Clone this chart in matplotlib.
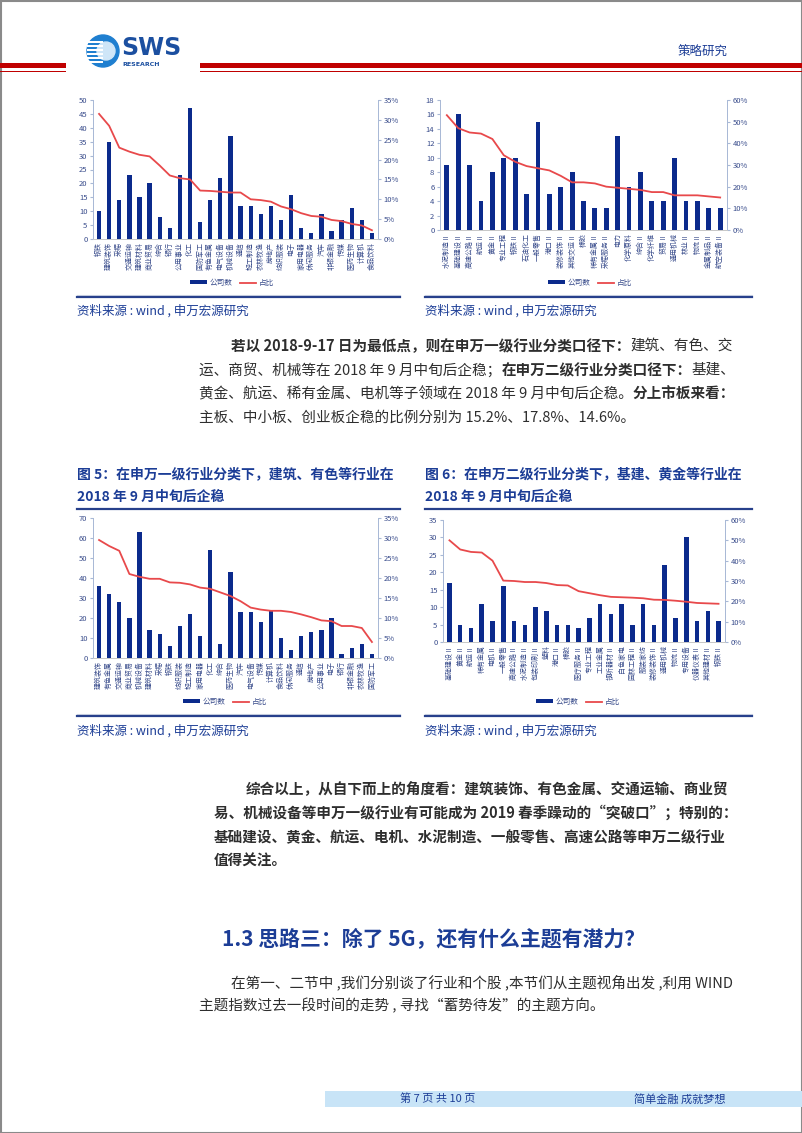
import numpy as np
import matplotlib
matplotlib.use('Agg')
import matplotlib.pyplot as plt
from matplotlib.patches import Rectangle, Circle
from matplotlib.ticker import PercentFormatter

plt.rcParams['font.family'] = ['Noto Sans CJK SC', 'DejaVu Sans']

# ---- data: 2018-9 lowest point (top) / recovered after mid Sep (bottom)
sw1_top_names = ['钢铁', '建筑装饰', '采掘', '交通运输', '建筑材料', '商业贸易', '综合', '银行',
                 '公用事业', '化工', '国防军工', '有色金属', '电气设备', '机械设备', '通信', '轻工制造',
                 '农林牧渔', '房地产', '纺织服装', '电子', '家用电器', '休闲服务', '汽车', '非银金融',
                 '传媒', '医药生物', '计算机', '食品饮料']
sw1_top_count = [10, 35, 14, 23, 15, 20, 8, 4, 23, 47, 6, 14, 22, 37, 12, 12, 9, 12, 7, 16,
                 4, 2, 9, 3, 7, 11, 7, 2]
sw1_top_ratio = [31.5, 28.5, 23.0, 22.0, 21.2, 20.8, 18.5, 16.0, 15.3, 15.0, 12.2, 12.1, 11.9,
                 11.7, 11.7, 10.0, 9.8, 9.4, 8.2, 7.5, 6.5, 5.8, 5.6, 4.8, 4.5, 3.8, 3.4, 2.2]

sw2_top_names = ['水泥制造Ⅱ', '基础建设Ⅱ', '高速公路Ⅱ', '航运Ⅱ', '黄金Ⅱ', '专业工程', '钢铁Ⅱ',
                 '石油化工', '一般零售', '港口Ⅱ', '装修装饰Ⅱ', '其他交运Ⅱ', '橡胶', '稀有金属Ⅱ',
                 '采掘服务Ⅱ', '电力', '化学原料', '综合Ⅱ', '化学纤维', '贸易Ⅱ', '通用机械',
                 '林业Ⅱ', '物流Ⅱ', '金属制品Ⅱ', '航空装备Ⅱ']
sw2_top_count = [9, 16, 9, 4, 8, 10, 10, 5, 15, 5, 6, 8, 4, 3, 3, 13, 6, 8, 4, 4, 10, 4, 4, 3, 3]
sw2_top_ratio = [53, 47, 45, 44.5, 42, 34.5, 31.5, 29.5, 28.5, 27.5, 25, 22, 22, 21.5, 20,
                 19.5, 19, 18.5, 17.5, 17.5, 16, 16, 16, 15.5, 15]

sw1_bot_names = ['建筑装饰', '有色金属', '交通运输', '商业贸易', '机械设备', '建筑材料', '采掘', '钢铁',
                 '纺织服装', '轻工制造', '家用电器', '化工', '综合', '医药生物', '汽车', '电气设备',
                 '传媒', '计算机', '食品饮料', '休闲服务', '通信', '房地产', '公用事业', '电子',
                 '银行', '非银金融', '农林牧渔', '国防军工']
sw1_bot_count = [36, 32, 28, 20, 63, 14, 12, 6, 16, 22, 11, 54, 7, 43, 23, 23, 18, 24, 10, 4,
                 11, 13, 14, 20, 2, 5, 7, 2]
sw1_bot_ratio = [29.5, 28.0, 26.8, 21.0, 20.3, 19.8, 19.8, 18.9, 18.8, 18.4, 17.6, 17.3, 16.4,
                 15.5, 14.2, 12.6, 12.1, 11.8, 11.8, 11.5, 10.9, 10.2, 9.4, 9.2, 8.0, 8.0, 7.5, 4.0]

sw2_bot_names = ['基础建设Ⅱ', '黄金Ⅱ', '航运Ⅱ', '稀有金属', '电机Ⅱ', '一般零售', '高速公路Ⅱ',
                 '水泥制造Ⅱ', '包装印刷Ⅱ', '塑料', '港口Ⅱ', '橡胶', '医疗服务Ⅱ', '专业工程',
                 '工业金属', '视听器材Ⅱ', '白色家电', '园林工程Ⅱ', '服装家纺', '装修装饰Ⅱ',
                 '通用机械', '物流Ⅱ', '专用设备', '仪器仪表Ⅱ', '其他建材Ⅱ', '钢铁Ⅱ']
sw2_bot_count = [17, 5, 4, 11, 6, 16, 6, 5, 10, 9, 5, 5, 4, 7, 11, 8, 11, 5, 11, 5, 22, 7,
                 30, 6, 9, 6]
sw2_bot_ratio = [50, 45.5, 44.3, 44, 40, 30.2, 30, 29.5, 29.5, 29, 28, 27.8, 25, 24, 23, 22.2,
                 22, 21.8, 21.5, 20.8, 20.7, 20.3, 19.8, 19.2, 19, 18.8]

legend_labels = ['公司数', '占比']

W, H = 802, 1133
NAVY = '#0b2a8c'
RED = '#e8494b'
TBLUE = '#1c3d96'
TICKC = '#3a4d8c'
AXC = '#a9b9d6'
BODY = '#2e2e2e'

fig = plt.figure(figsize=(W / 100, H / 100), dpi=100)
bg = fig.add_axes([0, 0, 1, 1])
bg.set_xlim(0, W)
bg.set_ylim(H, 0)
bg.axis('off')
fig.canvas.draw()
renderer = fig.canvas.get_renderer()


def chart(box, names, counts, ratios, ymax, ystep, rmax, rstep, leg_xy):
    x0, y0, x1, y1 = box
    ax = fig.add_axes([x0 / W, 1 - y1 / H, (x1 - x0) / W, (y1 - y0) / H])
    x = np.arange(len(names))
    bars = ax.bar(x, counts, width=0.42, color=NAVY)
    ax.set_xlim(-0.6, len(names) - 0.4)
    ax.set_ylim(0, ymax)
    ax.set_yticks(np.arange(0, ymax + 0.1, ystep))
    ax.set_xticks(x)
    ax.set_xticklabels(names, rotation=90, fontsize=5, color=TICKC)
    ax.tick_params(axis='x', length=0, pad=2)
    ax.tick_params(axis='y', labelsize=5.5, colors=TICKC, length=2, color=AXC, pad=2)
    ax2 = ax.twinx()
    line, = ax2.plot(x, np.array(ratios) / 100, color=RED, lw=1.3)
    ax2.set_ylim(0, rmax / 100)
    ax2.set_yticks(np.arange(0, rmax + 0.1, rstep) / 100)
    ax2.yaxis.set_major_formatter(PercentFormatter(1.0, decimals=0))
    ax2.tick_params(axis='y', labelsize=5.5, colors=TICKC, length=2, color=AXC, pad=2)
    for a in (ax, ax2):
        a.spines['top'].set_visible(False)
        a.spines['left'].set_color(AXC)
        a.spines['right'].set_color(AXC)
        a.spines['bottom'].set_color('#c8c8c8')
        a.spines['left'].set_linewidth(0.7)
        a.spines['right'].set_linewidth(0.7)
        a.spines['bottom'].set_linewidth(0.7)
    ax.legend([bars, line], legend_labels, loc='center', ncol=2, frameon=False,
              bbox_to_anchor=(leg_xy[0] / W, 1 - leg_xy[1] / H), bbox_transform=fig.transFigure,
              fontsize=5.5, handlelength=2.2, handleheight=0.4, columnspacing=1.0,
              handletextpad=0.3, labelcolor=TICKC)
    return ax


chart((93, 100, 378, 239), sw1_top_names, sw1_top_count, sw1_top_ratio, 50, 5, 35, 5, (232, 283))
chart((440, 100, 727, 230), sw2_top_names, sw2_top_count, sw2_top_ratio, 18, 2, 60, 10, (590, 283))
chart((93, 518, 378, 658), sw1_bot_names, sw1_bot_count, sw1_bot_ratio, 70, 10, 35, 5, (225, 702))
chart((443, 520, 725, 642), sw2_bot_names, sw2_bot_count, sw2_bot_ratio, 35, 5, 60, 10, (578, 702))

# ---- page frame, header, footer
bg.add_patch(Rectangle((0.5, 0.5), W - 1, H - 1, fill=False, ec='#8a8a8a', lw=1.5))
for xa, xb in [(0, 66), (200, W)]:
    bg.add_patch(Rectangle((xa, 63), xb - xa, 5, color='#c00000', lw=0))
    bg.add_patch(Rectangle((xa, 71), xb - xa, 1.3, color='#c00000', lw=0))
bg.add_patch(Circle((103, 51), 16, color='#1f7fd0'))
bg.add_patch(Circle((106, 51), 9, color='#cfe6f8'))
for yy in range(41, 63, 4):
    bg.add_patch(Rectangle((87, yy), 16, 1.6, color='white', lw=0))
bg.text(121, 48, 'SWS', fontsize=17, fontweight='bold', color='#1b4fa0', va='center',
        family='DejaVu Sans')
bg.text(122, 64, 'RESEARCH', fontsize=4.5, fontweight='bold', color='#1b4fa0', va='center',
        family='DejaVu Sans')
bg.text(728, 52, '策略研究', fontsize=9, color=TBLUE, ha='right', va='center')

bg.add_patch(Rectangle((325, 1091), W - 325, 16, color='#c8e4f7', lw=0))
bg.text(438, 1099, '第 7 页 共 10 页', fontsize=8, color=TBLUE, ha='center', va='center')
bg.text(680, 1099, '简单金融 成就梦想', fontsize=8, color=TBLUE, ha='center', va='center')

# ---- rules and captions
for xa, xb in [(77, 400), (425, 752)]:
    for yy in (297, 716):
        bg.plot([xa, xb], [yy - 2.5, yy - 2.5], color='#d5dbe8', lw=0.8)
        bg.plot([xa, xb], [yy, yy], color='#27408b', lw=1.6)
    bg.plot([xa, xb], [509, 509], color='#27408b', lw=1.6)
for xa in (77, 425):
    bg.text(xa, 311, '资料来源 : wind , 申万宏源研究', fontsize=9, color=TBLUE, va='center')
    bg.text(xa, 731, '资料来源 : wind , 申万宏源研究', fontsize=9, color=TBLUE, va='center')
bg.text(77, 474, '图 5：在申万一级行业分类下，建筑、有色等行业在', fontsize=10,
        fontweight='bold', color=TBLUE, va='center')
bg.text(77, 497, '2018 年 9 月中旬后企稳', fontsize=10, fontweight='bold', color=TBLUE, va='center')
bg.text(425, 474, '图 6：在申万二级行业分类下，基建、黄金等行业在', fontsize=10,
        fontweight='bold', color=TBLUE, va='center')
bg.text(425, 497, '2018 年 9 月中旬后企稳', fontsize=10, fontweight='bold', color=TBLUE, va='center')


def rich_line(x, y, segs, size=10.5, color=BODY):
    for s, bold in segs:
        t = bg.text(x, y, s, fontsize=size, fontweight='bold' if bold else 'normal',
                    color=color, va='center', ha='left')
        x += t.get_window_extent(renderer).width


para1 = [
    (231, 346, [('若以 2018-9-17 日为最低点，则在申万一级行业分类口径下：', True), ('建筑、有色、交', False)]),
    (199, 370, [('运、商贸、机械等在 2018 年 9 月中旬后企稳；', False), ('在申万二级行业分类口径下：', True),
                ('基建、', False)]),
    (199, 394, [('黄金、航运、稀有金属、电机等子领域在 2018 年 9 月中旬后企稳。', False),
                ('分上市板来看：', True)]),
    (199, 418, [('主板、中小板、创业板企稳的比例分别为 15.2%、17.8%、14.6%。', False)]),
]
para2 = [
    (246, 789, [('综合以上，从自下而上的角度看：建筑装饰、有色金属、交通运输、商业贸', True)]),
    (214, 813, [('易、机械设备等申万一级行业有可能成为 2019 春季躁动的“突破口”；特别的：', True)]),
    (214, 837, [('基础建设、黄金、航运、电机、水泥制造、一般零售、高速公路等申万二级行业', True)]),
    (214, 861, [('值得关注。', True)]),
]
para3 = [
    (231, 982, [('在第一、二节中 ,我们分别谈了行业和个股 ,本节们从主题视角出发 ,利用 WIND', False)]),
    (199, 1006, [('主题指数过去一段时间的走势 , 寻找“蓄势待发”的主题方向。', False)]),
]
for px, py, segs in para1 + para2 + para3:
    rich_line(px, py, segs)

bg.text(222, 940, '1.3 思路三：除了 5G，还有什么主题有潜力？', fontsize=15, fontweight='bold',
        color=TBLUE, va='center')

fig.savefig('out.png', dpi=100)
